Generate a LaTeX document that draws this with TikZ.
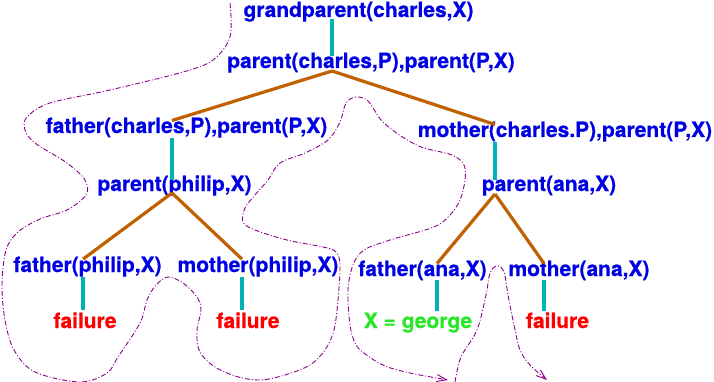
\documentclass[tikz,border=0pt]{standalone}
\usepackage{fontspec}
\newfontfamily\goalfont[BoldFeatures={FakeBold=0.6}]{TeX Gyre Heros}
\usetikzlibrary{arrows.meta}
\definecolor{goalblue}{RGB}{0,0,228}
\definecolor{unifyteal}{RGB}{0,178,178}
\definecolor{branchbrown}{RGB}{192,96,0}
\definecolor{failred}{RGB}{255,0,0}
\definecolor{answergreen}{RGB}{40,230,40}
\definecolor{tracepurple}{RGB}{140,0,140}
\tikzset{
  goal/.style={text=goalblue, font=\goalfont\fontsize{21}{25}\selectfont\bfseries, inner sep=0pt, anchor=base},
  fail/.style={goal, text=failred},
  answer/.style={goal, text=answergreen},
  unify/.style={draw=unifyteal, line width=3.2pt},
  branch/.style={draw=branchbrown, line width=3.2pt},
  trace/.style={draw=tracepurple, line width=0.9pt, dash pattern=on 5pt off 2pt on 1pt off 2pt,
    -{Straight Barb[length=10pt,width=7pt,line width=0.9pt]}}
}
\begin{document}
\begin{tikzpicture}[x=1pt,y=-1pt]
\useasboundingbox (0,0) rectangle (714,382);
% goals
\node[goal] (gp)  at (358.5,17) {grandparent(charles,X)};
\node[goal] (pcp) at (371,68)   {parent(charles,P),parent(P,X)};
\node[goal] (fcp) at (186.5,133) {father(charles,P),parent(P,X)};
\node[goal] (mcp) at (565,137)  {mother(charles.P),parent(P,X)};
\node[goal] (pp)  at (174.5,191) {parent(philip,X)};
\node[goal] (pa)  at (549,191)  {parent(ana,X)};
\node[goal] (fpx) at (87.5,272) {father(philip,X)};
\node[goal] (mpx) at (258,272)  {mother(philip,X)};
\node[goal] (fax) at (422.5,276) {father(ana,X)};
\node[goal] (max) at (579,276)  {mother(ana,X)};
\node[fail] (f1) at (85,328) {failure}; \node[fail] (f2) at (248,328) {failure};
\node[answer] (ans) at (418,328) {X = george}; \node[fail] (f3) at (557.5,328) {failure};
% stems
\coordinate (k0) at (332,71); \coordinate (k1) at (172,193); \coordinate (k2) at (495,194);
\coordinate (l1) at (83,310); \coordinate (l2) at (242,310); \coordinate (l3) at (437,311); \coordinate (l4) at (544,311);
\draw[unify] ([yshift=-2pt]gp.base -| k0) -- ([yshift=-4pt]pcp.north -| k0);
\draw[branch] (k0) -- ([yshift=-3pt]fcp.north -| k1);
\draw[branch] (k0) -- ([yshift=-3pt]mcp.north -| k2);
\draw[unify] (fcp.south -| k1) -- ([yshift=-5pt]pp.north -| k1);
\draw[unify] (mcp.south -| k2) -- ([yshift=-5pt]pa.north -| k2);
\draw[branch] (k1) -- ([yshift=-3pt]fpx.north -| l1);
\draw[branch] (k1) -- ([yshift=-3pt]mpx.north -| l2);
\draw[branch] (k2) -- ([yshift=-3pt]fax.north -| l3);
\draw[branch] (k2) -- ([yshift=-3pt]max.north -| l4);
\draw[unify] (fpx.south -| l1) -- (l1); \draw[unify] (mpx.south -| l2) -- (l2);
\draw[unify] (fax.south -| l3) -- (l3); \draw[unify] (max.south -| l4) -- (l4);
% search trace
\draw[trace] plot[smooth, tension=0.55] coordinates {(230,3) (230,37) (213,60) (183,72) (110,90) (50,103) (27,117) (25,130) (35,143) (67,163) (85,180) (86,195) (67,210) (40,219) (18,232) (6,250) (2,285) (5,320) (14,350) (35,372) (80,382) (107,373) (118,357) (140,323) (147,300) (156,285) (168,277) (183,283) (197,297) (201,310) (197,330) (199,350) (212,365) (235,376) (260,380) (285,375) (310,365) (325,350) (334,330) (338,300) (340,265) (336,252) (323,247) (287,240) (255,230) (243,222) (245,208) (255,195) (268,180) (280,163) (305,153) (328,140) (340,122) (346,103) (356,97) (368,101) (381,120) (398,134) (421,147) (452,155) (464,165) (465,180) (460,200) (450,215) (434,227) (390,240) (364,250) (353,265) (348,290) (350,325) (356,345) (368,356) (385,366) (410,373) (448,380)};
\draw[trace] plot[smooth, tension=0.55] coordinates {(455,382) (461,357) (477,330) (486,295) (490,273) (497,266) (504,272) (508,295) (514,325) (520,350) (530,365) (547,380)};
\end{tikzpicture}
\end{document}
